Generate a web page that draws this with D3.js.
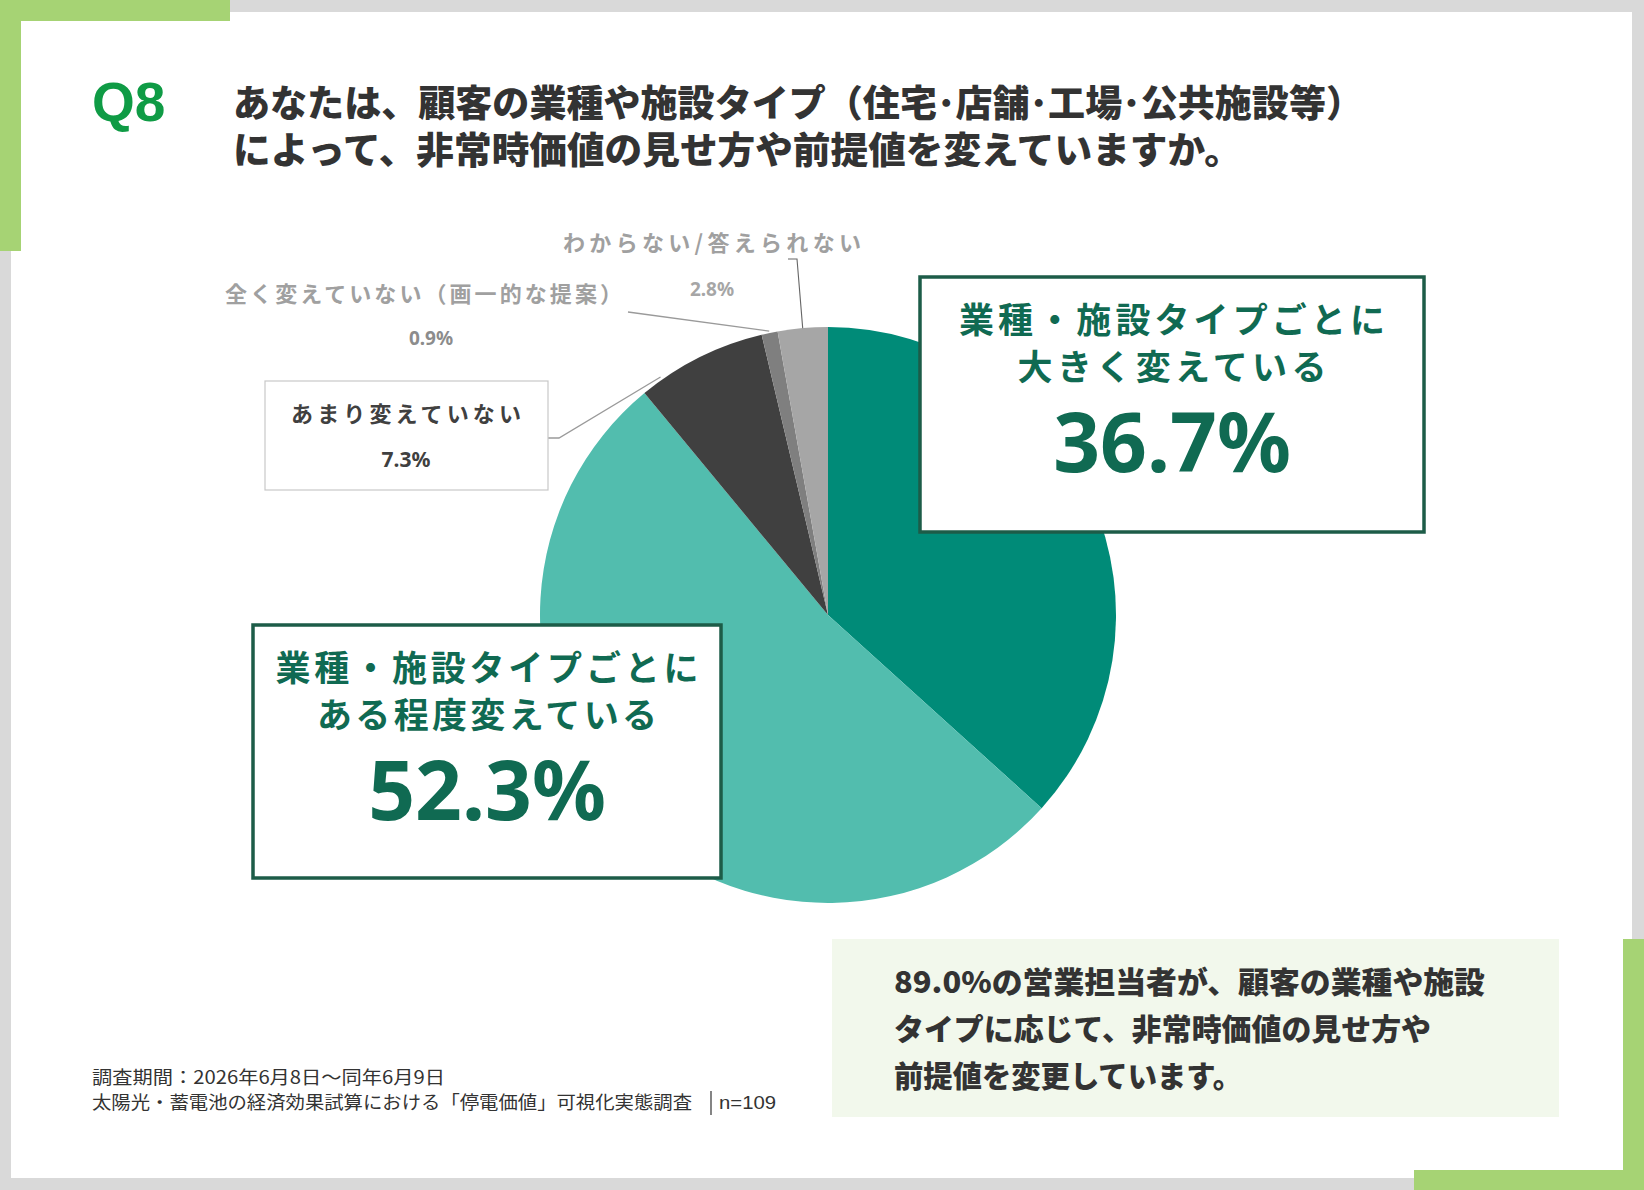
<!DOCTYPE html>
<html><head><meta charset="utf-8">
<script src="https://cdn.jsdelivr.net/npm/d3@7/dist/d3.min.js"></script>
<style>
html,body{margin:0;padding:0;background:#d9d9d9;}
svg{display:block;}
text{font-family:"Noto Sans CJK JP","Noto Sans",sans-serif;}
</style></head>
<body>
<svg id="chart" width="1644" height="1190"></svg>
<script>
// ---- data ----
const categories = [
  "業種・施設タイプごとに大きく変えている",
  "業種・施設タイプごとにある程度変えている",
  "あまり変えていない",
  "全く変えていない（画一的な提案）",
  "わからない/答えられない"
];
const values = [36.7, 52.3, 7.3, 0.9, 2.8];
const sliceColors = ["#008b78", "#52bdae", "#404040", "#7f7f7f", "#a6a6a6"];
const boxLines1 = ["業種・施設タイプごとに", "大きく変えている"];
const boxLines2 = ["業種・施設タイプごとに", "ある程度変えている"];
const titleLines = [
  "あなたは、顧客の業種や施設タイプ（住宅･店舗･工場･公共施設等）",
  "によって、非常時価値の見せ方や前提値を変えていますか。"
];
const summaryLines = [
  "89.0%の営業担当者が、顧客の業種や施設",
  "タイプに応じて、非常時価値の見せ方や",
  "前提値を変更しています。"
];
const noteLines = [
  "調査期間：2026年6月8日～同年6月9日",
  "太陽光・蓄電池の経済効果試算における「停電価値」可視化実態調査"
];
const sampleLabel = "n=109";
const fmt = v => v.toFixed(1) + "%";

// ---- drawing ----
const svg = d3.select("#chart");
svg.append("rect").attr("width",1644).attr("height",1190).attr("fill","#d9d9d9");
svg.append("rect").attr("x",11).attr("y",12).attr("width",1621).attr("height",1166).attr("fill","#ffffff");
const lg = "#a6d374";
[[0,0,230,21],[0,0,21,251],[1623,939,21,251],[1414,1170,230,20]].forEach(r=>{
  svg.append("rect").attr("x",r[0]).attr("y",r[1]).attr("width",r[2]).attr("height",r[3]).attr("fill",lg);
});

// title
svg.append("text").attr("x",92).attr("y",121).text("Q8")
  .style("font-family","'Liberation Sans',Arial,sans-serif").attr("font-weight",700)
  .attr("font-size",55).attr("fill","#0f9b45");
const titleW = [1130, 1009];
const tt = svg.append("text").attr("font-size",37).attr("font-weight",800).attr("fill","#333333");
titleLines.forEach((t,i)=>{
  tt.append("tspan").attr("x",233).attr("y",117+i*47).text(t)
    .attr("textLength",titleW[i]).attr("lengthAdjust","spacingAndGlyphs");
});

// pie
const cx = 828, cy = 615, R = 288;
const pie = d3.pie().sort(null).value(d=>d).startAngle(0).endAngle(2*Math.PI);
const arcs = pie(values);
const arc = d3.arc().innerRadius(0).outerRadius(R);
const g = svg.append("g").attr("transform",`translate(${cx},${cy})`);
g.selectAll("path").data(arcs).join("path")
  .attr("d",arc).attr("fill",(d,i)=>sliceColors[i]);

// leader lines
const pt = (a,r)=>{const p=d3.pointRadial(a,r);return [cx+p[0],cy+p[1]];};
const line = d3.line();
const lc = "#9a9a9a";
const a2 = arcs[2], a3 = arcs[3], a4 = arcs[4];
svg.append("path").attr("d",line([[548,438],[559,438],pt(a2.startAngle+0.17*(a2.endAngle-a2.startAngle),R+3)]))
  .attr("fill","none").attr("stroke",lc).attr("stroke-width",1.3);
svg.append("path").attr("d",line([[628,312],pt((a3.startAngle+a3.endAngle)/2,R+2)]))
  .attr("fill","none").attr("stroke",lc).attr("stroke-width",1.3);
svg.append("path").attr("d",line([[788,259],[797,259],pt((a4.startAngle+a4.endAngle)/2,R)]))
  .attr("fill","none").attr("stroke","#666").attr("stroke-width",1.1);

// big callout boxes
const dg = "#106a52";
function bigBox(x,y,w,h,lines,widths,val){
  svg.append("rect").attr("x",x).attr("y",y).attr("width",w).attr("height",h)
    .attr("fill","#ffffff").attr("stroke","#1d5c48").attr("stroke-width",3.5);
  const mx = x + w/2;
  lines.forEach((t,i)=>{
    svg.append("text").attr("x",mx).attr("y",y+56+i*47).attr("text-anchor","middle").text(t)
      .attr("font-size",35).attr("font-weight",700).attr("fill",dg)
      .attr("textLength",widths[i]).attr("lengthAdjust","spacing");
  });
  svg.append("text").attr("x",mx).attr("y",y+195).attr("text-anchor","middle").text(fmt(val))
    .style("font-family","'Noto Sans','Open Sans',sans-serif").attr("font-size",82).attr("font-weight",700)
    .attr("fill",dg);
}
bigBox(920,277,504,255,boxLines1,[426,309],values[0]);
bigBox(253,625,468,253,boxLines2,[423,340],values[1]);

// small box
svg.append("rect").attr("x",265).attr("y",381).attr("width",283).attr("height",109)
  .attr("fill","#ffffff").attr("stroke","#c8c8c8").attr("stroke-width",1.2);
svg.append("text").attr("x",406).attr("y",422).attr("text-anchor","middle").text(categories[2])
  .attr("font-size",22).attr("font-weight",700).attr("fill","#404040")
  .attr("textLength",230).attr("lengthAdjust","spacing");
svg.append("text").attr("x",406).attr("y",467).attr("text-anchor","middle").text(fmt(values[2]))
  .style("font-family","'Noto Sans',sans-serif").attr("font-size",21).attr("font-weight",700).attr("fill","#404040");

// gray labels
const gc = "#a0a0a0";
svg.append("text").attr("x",225).attr("y",302).text(categories[3])
  .attr("font-size",22).attr("font-weight",700).attr("fill",gc)
  .attr("textLength",397).attr("lengthAdjust","spacing");
svg.append("text").attr("x",431).attr("y",345).attr("text-anchor","middle").text(fmt(values[3]))
  .style("font-family","'Noto Sans',sans-serif").attr("font-size",19).attr("font-weight",700).attr("fill","#8c8c8c");
svg.append("text").attr("x",563).attr("y",251).text(categories[4])
  .attr("font-size",22).attr("font-weight",700).attr("fill",gc)
  .attr("textLength",298).attr("lengthAdjust","spacing");
svg.append("text").attr("x",712).attr("y",296).attr("text-anchor","middle").text(fmt(values[4]))
  .style("font-family","'Noto Sans',sans-serif").attr("font-size",19).attr("font-weight",700).attr("fill","#a6a6a6");

// summary box
svg.append("rect").attr("x",832).attr("y",939).attr("width",727).attr("height",178).attr("fill","#f2f8ec");
const sumW = [591,537,348];
summaryLines.forEach((t,i)=>{
  svg.append("text").attr("x",894).attr("y",993+i*47).text(t)
    .attr("font-size",30).attr("font-weight",800).attr("fill","#333333")
    .attr("textLength",sumW[i]).attr("lengthAdjust","spacingAndGlyphs");
});

// notes
const noteW = [353,600];
noteLines.forEach((t,i)=>{
  svg.append("text").attr("x",92).attr("y",1084+i*25).text(t)
    .attr("font-size",18).attr("fill","#333333")
    .attr("textLength",noteW[i]).attr("lengthAdjust","spacingAndGlyphs");
});
svg.append("line").attr("x1",711).attr("x2",711).attr("y1",1091).attr("y2",1115).attr("stroke","#333").attr("stroke-width",1.2);
svg.append("text").attr("x",719).attr("y",1109).text(sampleLabel)
  .style("font-family","'Liberation Sans',Arial,sans-serif").attr("font-size",18).attr("fill","#333333")
  .attr("textLength",57).attr("lengthAdjust","spacingAndGlyphs");
</script>
</body></html>
